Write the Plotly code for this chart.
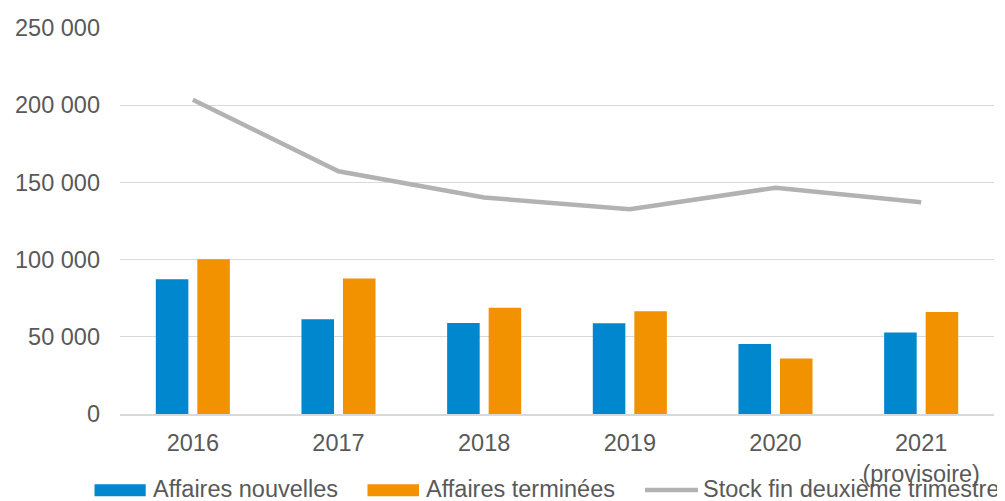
import plotly.graph_objects as go

categories = ["2016", "2017", "2018", "2019", "2020", "2021<br>(provisoire)"]
affaires_nouvelles = [87300, 61300, 58900, 58700, 45300, 52800]
affaires_terminees = [100300, 87800, 68800, 66600, 36000, 66000]
stock_fin_t2 = [203500, 157200, 140200, 132600, 146600, 137100]
series_names = ["Affaires nouvelles", "Affaires terminées", "Stock fin deuxième trimestre"]
y_ticks = [0, 50000, 100000, 150000, 200000, 250000]

BLUE = "#0087CD"
ORANGE = "#F39200"
GREY = "#B2B2B2"
TEXT = "#595959"
FONT = "Liberation Sans, Arial, sans-serif"
FS = 23.5

OFF = 8  # default page body margin
W, H = 1005 - OFF, 501 - OFF
ML, MR, MT = 120 - OFF, 11, 28 - OFF
MB = H - (414 - OFF)
PW, PH = W - ML - MR, H - MT - MB

def px_x(p):
    return (p - OFF - ML) / PW

def px_y(p):
    return (414 - p) / PH

fig = go.Figure()
fig.add_trace(go.Bar(x=categories, y=affaires_nouvelles, name=series_names[0],
                     marker=dict(color=BLUE, line=dict(width=0)), showlegend=False))
fig.add_trace(go.Bar(x=categories, y=affaires_terminees, name=series_names[1],
                     marker=dict(color=ORANGE, line=dict(width=0)), showlegend=False))
fig.add_trace(go.Scatter(x=categories, y=stock_fin_t2, name=series_names[2], mode="lines",
                         line=dict(color=GREY, width=4.5), showlegend=False))

# custom legend (swatches + labels)
shapes = []
annotations = []
legend_y = 490
shapes.append(dict(type="rect", xref="paper", yref="paper",
                   x0=px_x(94.5), x1=px_x(145.7), y0=px_y(496.3), y1=px_y(484.3),
                   fillcolor=BLUE, line=dict(width=0)))
shapes.append(dict(type="rect", xref="paper", yref="paper",
                   x0=px_x(367.5), x1=px_x(419), y0=px_y(496.3), y1=px_y(484.3),
                   fillcolor=ORANGE, line=dict(width=0)))
shapes.append(dict(type="line", xref="paper", yref="paper",
                   x0=px_x(645), x1=px_x(698), y0=px_y(legend_y), y1=px_y(legend_y),
                   line=dict(color=GREY, width=4.5)))
for name, xp in zip(series_names, [150.5, 423.5, 700.5]):
    annotations.append(dict(text=name, xref="paper", yref="paper", x=px_x(xp), y=px_y(legend_y - 1),
                            xanchor="left", yanchor="middle", showarrow=False,
                            font=dict(family=FONT, size=FS, color=TEXT)))

fig.update_layout(
    width=W, height=H,
    margin=dict(l=ML, r=MR, t=MT, b=MB, autoexpand=False),
    paper_bgcolor="white", plot_bgcolor="white",
    barmode="group", bargap=0.43, bargroupgap=0.216,
    separators=", ",
    font=dict(family=FONT, size=FS, color=TEXT),
    shapes=shapes, annotations=annotations,
    showlegend=False,
)
fig.update_xaxes(showgrid=False, showline=True, linecolor="#D9D9D9", linewidth=2,
                 ticks="", ticklabelstandoff=7, automargin=False,
                 tickfont=dict(family=FONT, size=FS, color=TEXT))
fig.update_yaxes(range=[0, 250000], tickvals=y_ticks, tickformat=",d",
                 showgrid=True, gridcolor="#D9D9D9", gridwidth=1, zeroline=False,
                 showline=False, ticks="", ticklabelstandoff=19, automargin=False,
                 tickfont=dict(family=FONT, size=FS, color=TEXT))

fig.write_html("out.html")
